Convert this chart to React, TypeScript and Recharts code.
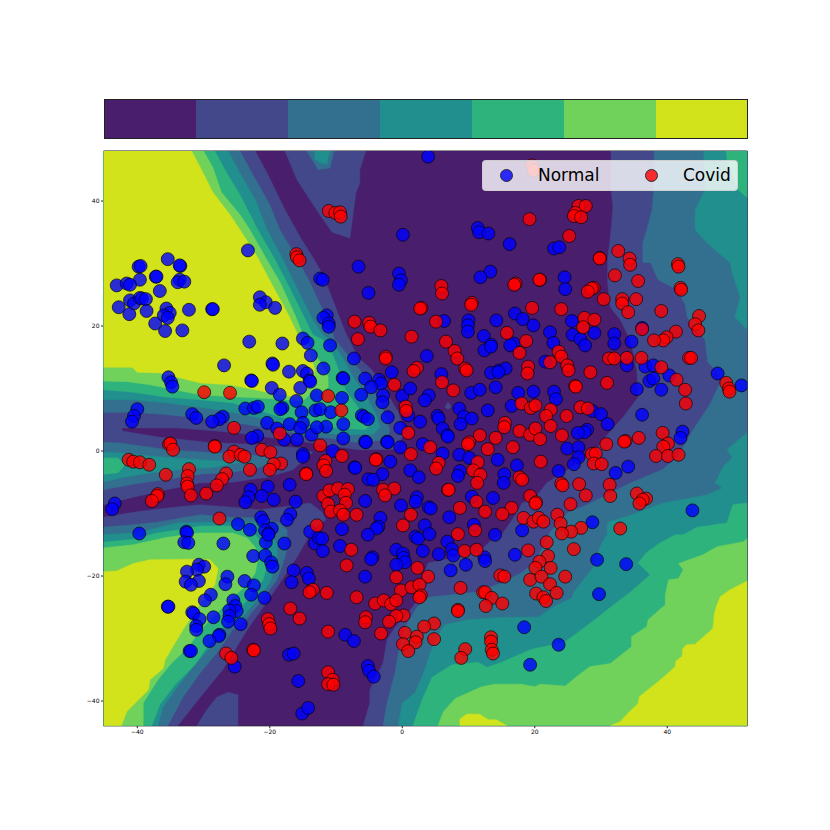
import React from 'react';
import { BarChart, Bar, XAxis, YAxis, ScatterChart, Scatter, Legend, ReferenceArea } from 'recharts';

type Pair = [number, number];

const xMin = -45.1;
const xMax = 52.08;
const yMin = -43.95;
const yMax = 48;

const xTicks = [-40, -20, 0, 20, 40];
const yTicks = [-40, -20, 0, 20, 40];

const levelColors = ['#491e6d', '#43488a', '#33708f', '#218f8d', '#2eb37c', '#71d25b', '#d2e21b'];
const colorbarKeys = ['l0', 'l1', 'l2', 'l3', 'l4', 'l5', 'l6'];
const colorbarRow = [{ name: 'levels', l0: 1, l1: 1, l2: 1, l3: 1, l4: 1, l5: 1, l6: 1 }];

// contour regions per level, in data units, painted lowest first
const level0: Pair[][] = [[[xMin, yMax], [xMax, yMax], [xMax, yMin], [xMin, yMin]]];

const level1: Pair[][] = [
  [[-22.2,48],[-20.4,44.5],[-17.7,38.6],[-15.4,34.2],[-13.5,31],[-12,28.2],[-10.2,23.4],[-8.6,19],[-6.7,15],[-4.6,13],[-2.6,9.8],[-0.6,6.2],[0.4,2.9],[-1.1,0.3],[-6.7,0.2],[-10.6,0.8],[-13.5,1.3],[-20.4,2.2],[-25.6,3],[-34,3.7],[-42.3,3.7],[-42.3,3.2],[-36.6,2.2],[-29.5,1.4],[-21.5,1],[-15.4,0.5],[-13.5,-0.2],[-16.5,-3],[-20.4,-4.2],[-25.6,-5],[-30.5,-5.1],[-35.5,-6.2],[-40.6,-7.4],[-45.1,-8.6],[-45.1,48]],
  [[-45.1,-10.6],[-40.6,-9.8],[-35.5,-9.1],[-30.5,-8.6],[-25.6,-9],[-21.5,-9.4],[-17,-8.8],[-13.9,-8.3],[-12.1,-9.8],[-11.5,-11],[-13.5,-12.6],[-15.9,-17],[-18.9,-21.8],[-23.4,-28.6],[-27.1,-35],[-30.5,-39.4],[-33.9,-43.95],[-45.1,-43.95]],
  [[31.5,48],[31.5,41.8],[31.8,39],[31.4,34.2],[31,30.6],[31,26.9],[31.4,23],[32.9,21],[34.4,17.8],[35.4,13],[35.6,8.6],[33.3,5.4],[30.3,1.8],[28.8,-0.3],[24.9,-3],[21.8,-5.1],[20,-7.5],[18.1,-8.3],[16.6,-11],[15,-13.4],[13.5,-14.2],[11.4,-16.3],[3.9,-17.9],[3,-20.2],[2.4,-23.8],[0.9,-25.8],[-1.1,-28.2],[-2.3,-30.2],[-2.9,-33.9],[-4.9,-38.2],[-4.9,-40.3],[-5.9,-43.95],[52.08,-43.95],[52.08,48]],
  [[-17.7,48],[-15.9,43.4],[-13.2,39],[-10.6,35],[-7.9,34.1],[-7,41.3],[-6.4,42.9],[-6.4,45],[-5.5,48]],
  [[-31,-43.95],[-29.5,-41.4],[-28,-39.4],[-26.3,-38.6],[-24.8,-39],[-24.8,-43.95]],
  [[6.9,7.9],[7.4,7],[6.9,6.7],[6.4,7]],
];

const level2: Pair[][] = [
  [[-24.5,48],[-22.7,44.5],[-20,39.4],[-18.5,35.4],[-16.2,31.4],[-13.9,26.9],[-12.4,23.4],[-10.9,20.2],[-10.2,17.8],[-7.6,14.6],[-6.1,12.5],[-4.4,9.8],[-2.9,6.6],[-1.9,3.4],[-2.3,1.8],[-7.1,1.4],[-11.2,2.1],[-13.2,2.2],[-20.4,3.7],[-25.6,4.6],[-30.5,5.3],[-35.5,5.8],[-40.6,6.2],[-45.1,6.2],[-45.1,48]],
  [[-45.1,1.4],[-42.6,1.3],[-35.5,0.2],[-28,-0.3],[-23,-0.6],[-18.5,-1.4],[-21.5,-2.6],[-25.6,-3.4],[-30.5,-3.7],[-35.5,-4.5],[-40.6,-5.3],[-45.1,-6.2]],
  [[-45.1,-12.2],[-40.6,-11.8],[-37,-11.4],[-30.5,-10.2],[-25.6,-10.6],[-21.5,-10.7],[-18.5,-11.5],[-17.4,-12.6],[-17.4,-15.8],[-18,-17.9],[-18.9,-20.6],[-21.5,-24.3],[-24,-27.5],[-25.6,-28.6],[-28,-32.3],[-30.5,-35.5],[-33.1,-39.4],[-35.4,-43.95],[-45.1,-43.95]],
  [[38,48],[38.1,43.4],[37.7,38.6],[36.9,35.4],[36.3,33.3],[36.3,30.2],[37.5,30.1],[38.6,27.4],[41.5,25.8],[42.7,23.4],[43,21.4],[45.4,18.2],[45.7,17.8],[46.1,14.2],[48.4,11.8],[46.4,7.4],[43.9,3.4],[41.5,-1],[39.2,-3],[34.4,-5.1],[27.9,-8.6],[24.9,-9.9],[22.3,-13],[20,-17.8],[18.1,-19.4],[15,-21.1],[11,-22.6],[3.9,-23.4],[2.2,-25],[0.4,-28.2],[-0.6,-32.3],[-1.1,-35.5],[-2.3,-40.3],[-2.9,-43.95],[52.08,-43.95],[52.08,48]],
  [[-14.4,48],[-12.7,45],[-10.9,45.3],[-10.3,48]],
];

const level3: Pair[][] = [
  [[-26.3,48],[-24.5,44.5],[-22.2,40.2],[-20.4,35.4],[-18,30.6],[-15.4,25],[-13.5,21],[-12,18.6],[-10.9,17.8],[-9,15],[-7.4,11.8],[-5.3,8.6],[-3.8,5.4],[-3.4,3.8],[-4.4,2.7],[-8.6,2.6],[-12.1,2.9],[-15.4,3.7],[-20.4,5],[-25.6,6.2],[-30.5,7],[-35.5,7.7],[-40.6,8.2],[-45.1,8.2],[-45.1,48]],
  [[-45.1,-0.2],[-42.6,-0.3],[-38.1,-0.8],[-30.5,-1.4],[-24.5,-1.8],[-28.3,-2.6],[-33.6,-3],[-38.1,-3.5],[-42.6,-4.3],[-45.1,-5]],
  [[-45.1,-13.4],[-40.6,-13.1],[-38.1,-12.6],[-34,-11.5],[-30.5,-11.4],[-25.6,-11.4],[-21.5,-11.5],[-20.4,-12.6],[-18.9,-14.7],[-18.9,-17.9],[-20,-21.1],[-21.9,-23.8],[-24.5,-27],[-27.2,-28.6],[-29,-31.4],[-31.6,-34.6],[-34,-37.8],[-36.1,-41],[-36.9,-43.95],[-45.1,-43.95]],
  [[45.5,48],[45.7,41.8],[44.2,38.6],[44.2,35.4],[46,33.3],[49.5,30.1],[49.8,28.5],[51,24.6],[50.2,21.4],[52.08,19.4],[52.08,48]],
  [[52.08,3],[49,0.2],[49.8,-1],[48.4,-2.6],[47.2,-5.1],[48.3,-5.9],[46.1,-7],[39.4,-8.3],[34.7,-10.2],[31,-11.4],[30.9,-13.4],[30.1,-14.7],[28.8,-18.6],[25.8,-22.7],[25.6,-23.5],[22.7,-25],[20.5,-26.6],[15,-26.6],[9.9,-27],[6.4,-27.8],[5.2,-29.8],[4.2,-32.3],[3.4,-35],[1.9,-38.7],[0,-40.3],[-0.6,-43.95],[52.08,-43.95]],
  [[-13.2,48],[-13.2,46.7],[-12.4,46.1],[-11.4,45.9],[-10.9,48]],
];

const level4: Pair[][] = [
  [[-28.3,48],[-26.5,44.5],[-24.5,41],[-21.8,35.4],[-19.2,30.6],[-17,26.1],[-15,21.8],[-13.5,18.6],[-12,17.8],[-10.5,15.4],[-9.4,12.5],[-8.6,9.8],[-6.7,7],[-4.9,4.2],[-5.6,3.4],[-9.7,3.7],[-13.2,4.2],[-15.4,4.5],[-20.4,6.1],[-25.6,7.7],[-30.5,8.2],[-35.5,8.6],[-40.6,9.4],[-45.1,9.8],[-45.1,48]],
  [[-45.1,-1.1],[-42.9,-1.1],[-41.9,-2.2],[-42.9,-3.5],[-45.1,-3.7]],
  [[-45.1,-14.6],[-40.6,-14.1],[-37,-13.1],[-33.1,-12.5],[-30.5,-12],[-25.6,-12],[-23,-12.6],[-21,-14.7],[-20.3,-17.9],[-21,-20.6],[-23,-23.4],[-26.8,-27.8],[-28.7,-30.2],[-31.3,-34.2],[-34.3,-37.4],[-36.6,-40.6],[-37.8,-43.95],[-45.1,-43.95]],
  [[48.9,48],[49,46.6],[50.7,41.8],[52.08,40.5],[52.08,48]],
  [[52.08,-8.3],[49.9,-8.6],[49,-11.5],[44.5,-12.2],[42.4,-13.4],[41.2,-13.4],[38.9,-14.7],[36.9,-16.2],[35.6,-17.9],[37.4,-19.8],[34.4,-22.6],[32.9,-23.8],[31.4,-25],[29.4,-26.7],[26.4,-29.1],[24.3,-30.7],[20.8,-31.4],[19.3,-31.8],[15,-33.8],[12.8,-34.6],[11.4,-33.8],[7.5,-34.2],[4.5,-36.2],[3,-39.8],[1.6,-43.95],[52.08,-43.95]],
];

const level5: Pair[][] = [
  [[-30,48],[-28.6,45.4],[-27.3,41.4],[-24.5,37.8],[-23,35.4],[-20.7,31.1],[-18.4,26.9],[-16.2,21.8],[-14.7,17.8],[-13.2,15.7],[-12.4,14.2],[-11.2,11.8],[-11.2,10.2],[-12.1,9.4],[-13.2,9.8],[-15,8],[-20,8.4],[-25.9,8.7],[-30.5,9],[-38.1,10.6],[-41.5,11.1],[-45.1,11.2],[-45.1,48]],
  [[-45.1,-15.5],[-40.6,-15],[-35.5,-13.8],[-30.5,-13.1],[-25.6,-13.1],[-23.4,-13.9],[-22.2,-15.4],[-21.8,-17.4],[-22.2,-19.5],[-23.4,-21.4],[-25.6,-23.4],[-30.5,-28.6],[-32.3,-31.4],[-34.8,-33.9],[-36.9,-36.6],[-39.1,-40.3],[-39.1,-43.95],[-45.1,-43.95]],
  [[5.4,-43.95],[6.2,-41.7],[8,-39.6],[12,-37.7],[14,-37.3],[18,-37.3],[20,-37.7],[20.8,-37.3],[24.6,-37.6],[26.3,-36.1],[28.3,-34.5],[31.4,-34],[34.6,-31.3],[34.6,-29.7],[36.9,-28.1],[37.1,-27],[39.7,-24.6],[39.7,-23],[40.2,-20.6],[41.7,-20.4],[42.4,-19],[41.7,-18],[45.4,-16.6],[47.5,-15.3],[51.5,-14.5],[52.08,-14],[52.08,-43.95]],
];

const level6: Pair[][] = [
  [[-45.1,48],[-31.8,48],[-30.5,45.4],[-28.6,41.4],[-26,37.8],[-24.5,35.4],[-21.9,31.1],[-19.5,26.3],[-17.2,21.8],[-15.4,17.8],[-13.9,15.4],[-13.2,13],[-13.5,10.9],[-15.9,8.6],[-20.4,9.4],[-26,10.6],[-30.5,10.9],[-36.6,12.5],[-40,12.6],[-40.8,13.4],[-45.1,13.4]],
  [[-45.1,-19.3],[-43.1,-19.2],[-40.6,-18],[-38.1,-17.4],[-32,-17.3],[-29,-17.4],[-27.8,-18.8],[-28.3,-21.4],[-30.5,-24.4],[-33.1,-28.6],[-35.8,-33.4],[-36.1,-34.8],[-38.1,-36.6],[-38.3,-38.2],[-41.6,-41.7],[-42.4,-43.95],[-45.1,-43.95]],
  [[31.4,-43.95],[32.9,-43.3],[34.1,-41.9],[35.6,-40.4],[35.8,-39.3],[39.2,-36.4],[41.2,-34.5],[41.3,-33.6],[42.3,-32.8],[42.3,-31.7],[42.9,-31],[44.2,-30.9],[46.9,-28.4],[47.1,-26],[47.5,-24.6],[48,-23.3],[49.5,-22.2],[52.08,-20.8],[52.08,-43.95]],
  [[8.7,-43.95],[8.7,-42.9],[9.7,-42.1],[11.7,-42.1],[13,-43],[14.2,-43],[15.8,-43.95]],
];

const levels = [level0, level1, level2, level3, level4, level5, level6];

const normalPoints: Pair[] = [
  [-23.3,32.1],[-35.4,30.7],[-33.5,29.6],[-33.6,29.7],[-39.8,29.5],[-39.5,29.6],[-37.2,27.9],[-37.1,27.9],[-39.6,27.4],[-43.1,26.5],[-41.6,26.8],[-41.1,26.6],[-33.6,27.4],[-33.9,27],[-32.9,27.1],[-36.6,25.6],[-41.1,24.1],[-40.5,23.6],[-39.6,24.5],[-39.3,24.4],[-38.7,24.3],[-42.8,23],[-41.2,21.9],[-38.6,22.4],[-35.6,22.8],[-35.1,22.1],[-36,21.7],[-35.4,21.3],[-32.2,22.6],[-28.7,22.7],[-28.6,22.7],[-37.3,20.4],[-35.8,19.2],[-33.2,19.3],[-21.5,24.6],[-20.6,23.8],[-21.5,23.4],[-19.2,22.9],[-23.1,17.5],[-18.1,17.2],[-15,18],[-14.3,17.3],
  [3.9,47.1],[0.1,34.6],[-6.6,29.5],[-12.4,27.6],[-12,27.4],[-0.5,28.4],[-0.2,27.3],[-0.5,26.6],[-5.1,25.3],[11.4,35.7],[11.6,35],[13,34.8],[16.2,33.1],[13.3,28.7],[11.8,27.8],[6.3,20.8],[14.2,20.9],[17,22],[18.2,21.1],[19.8,20.1],[10,20.9],[9.9,20.1],[9.9,19.1],[12.3,18.4],[13.4,17],[16.8,17.2],[16.3,16.9],[-11.4,21.7],[-11.9,21.3],[-11.1,20.4],[-11.1,19.9],[-10.9,16.9],
  [22.9,32.4],[23.7,32.6],[24.5,27.8],[24.6,25.9],[25.6,20.8],[22.3,19],[22.8,17.3],[25.7,18.6],[26.9,17.9],[27.6,16.9],[29,18.9],[32,18.7],[32,17.2],[34.6,17.5],
  [-13.8,15.3],[-26.9,13.7],[-19.6,14],[-19.5,13.8],[-17.1,12.7],[-15,12.8],[-14.4,12.4],[-14,11.3],[-13.9,11.1],[-22.8,11.3],[-22.7,11.2],[-35.3,11.8],[-34.9,11],[-34.7,10.3],[-19.7,10.1],[-18.5,9],[-15.4,10.1],[-12.9,8.9],[-16,8],[-23.7,6.8],[-22.4,6.9],[-21.8,7.1],[-18.1,6.9],[-18.4,6.7],[-15.2,6.2],[-40,6.7],[-40.5,5.6],[-40.8,4.7],[-31.7,5.9],[-31.1,5.3],[-27.1,5.5],[-27.6,5.1],[-28.7,4.7],[-20.4,4.5],[-18.9,3.6],[-17,4.3],[-15,4.5],[-15.4,3.7],[-13.7,2.6],[-15.9,1.8],[-17.8,1.8],[-21.9,2.4],[-22.7,2.1],[-15,-0.5],[-15,-0.9],[-22.9,-6.2],[-23.2,-7.4],[-23.7,-8.2],[-20.3,-5.7],[-21.2,-7.2],[-19.4,-7.8],[-17,-5.4],[-16.1,-8.1],[-16.9,-10.1],[-17.4,-11],[-43.4,-8.4],[-43.8,-9.3],[-24.8,-11.7],[-21.3,-10.6],[-21,-11.2],[-19.7,-12.4],[-20.7,-12.7],[-20.2,-13.2],[-23,-12.6],[-39.7,-13.2],[-32.6,-12.9],[-32.5,-13.1],[-13.9,-12.9],
  [-7.3,14.8],[-11.9,13.2],[-9,11.7],[-8.9,11.6],[-5.6,11.6],[-3.5,11.4],[-3.2,10.8],[-1.6,12.6],[-4.7,10.2],[-6.2,9],[-2.9,8.9],[-3,7.8],[0,8.8],[1.2,10],[4,8.9],[3.4,8.1],[-9.1,8.5],[3.7,15.2],[5.9,12.3],[13.4,12.5],[14.6,12.9],[15.6,13.2],[14.5,12.6],[12.4,16.1],[13.4,16.7],[10.4,9.3],[11.7,9.8],[14.1,10.2],[17.5,9.3],[19.8,9.5],[16.5,7.2],[12.9,6.5],[8.6,6.8],[9.3,5.5],[10.5,5.2],[8.8,4.3],[5.3,5.6],[5.5,5.2],[2.7,4.7],[6.1,3.6],[6.8,2.5],[6.9,2.3],[-6.1,5.7],[-5.8,5.5],[-5.2,5.1],[-2.2,5.4],[0.9,5.7],[-0.3,3.7],[-8.9,4.3],[-11.5,3.9],[-12.9,3.8],[-13.1,6.5],[-12.4,6.7],[-10.8,6.2],[-8.9,2],[-5.6,1.5],[-5.5,1.4],[-2.3,1.5],[-2.2,1.4],[-0.3,0.6],[-10.5,0],[3.1,1.1],[6.1,-0.4],[8.6,-0.6],[10.1,-1.1],[14.4,-1.4],[17.3,-2.3],[-1.8,-1.7],[-7.2,-2.6],[-7.1,-2.7],[1.2,-3.1],[2.5,-4.2],[-3,-3.7],[-5.1,-4.5],[-4.4,-4.6],[8.7,-3.2],[8.4,-4],[15.4,-3.7],[15.3,-5.1],[13.7,-7.5],[10.5,-7.3],[2.2,-7.4],[2,-8.1],[-5.6,-8],[-0.2,-8.7],[4,-9],[4.3,-9.2],[7.1,-10.6],[-3.3,-10.7],[-3.6,-12.1],[-3.9,-12.4],[3.4,-11.9],[-9.1,-12.5],[10.8,-11.8],[18.1,-12.7],
  [21.6,14.3],[33.9,13.7],[36.7,13.5],[37.9,13.7],[40.3,12.1],[37.3,11.2],[37.9,11.6],[39.1,9.8],[35.4,9.9],[47.6,12.4],[51.2,10.5],[22.9,9.5],[23.2,8.3],[28.7,6.4],[30,5.9],[31,4.3],[36.2,5.8],[27.9,3.4],[27.5,3],[26.5,2.9],[42.3,3.1],[42,2.1],[24.9,0.4],[26.6,0.6],[26.6,-1],[25.9,-2.1],[34.1,-2.5],[32.2,-3.5],[23.6,-3.2],[43.8,-9.5],[28.7,-11.4],[36.2,19.7],
  [-32.9,-14.6],[-32.3,-14.7],[-27,-14.8],[-20.6,-14.6],[-20.2,-13.4],[-17.8,-14.8],[-13.2,-14.8],[-12.6,-13.9],[-22.5,-16.8],[-20.7,-16.7],[-19.8,-17.8],[-19.6,-18.5],[-30.7,-18.2],[-29.9,-18.5],[-31,-19],[-32.5,-19.3],[-16.4,-19.1],[-14.4,-19.5],[-14.1,-20.4],[-16.7,-21],[-30.7,-20.8],[-32.7,-20.9],[-31.9,-21.4],[-26.4,-20.1],[-26.7,-21.3],[-23.8,-20.8],[-22.4,-21.5],[-22.8,-23],[-28.9,-23],[-29.8,-23.9],[-20.8,-23.5],[-35.4,-24.9],[-35.3,-24.9],[-25.5,-23.9],[-25.2,-24.8],[-25,-25.6],[-26.1,-25.5],[-26.1,-26.4],[-26.3,-27.3],[-24.4,-27.7],[-31.7,-25.8],[-31.5,-26],[-28.5,-26.6],[-30.6,-26.9],[-31.1,-28],[-31.1,-28.6],[-27.6,-29.4],[-27.7,-29.6],[-29.1,-30.4],[-32.1,-32],[-31.9,-32],[-25.3,-34.5],[-17.1,-32.6],[-16.4,-32.4],[-15.7,-36.8],[-15.1,-42],[-14.2,-41.1],
  [-12,-16],[-12.1,-14],[-9.4,-15.2],[-5.2,-13.4],[-4.5,-17],[-4.7,-17.3],[-5.6,-20.1],[-0.9,-15.8],[0.1,-16.4],[0.2,-17.1],[0.4,-17.8],[-0.9,-18.2],[2,-13.7],[2.4,-14],[4.1,-13.3],[3.1,-16],[5.5,-16.5],[6.8,-14.5],[7.5,-15.7],[7.7,-16.7],[9.6,-18.2],[7.3,-19.1],[12.4,-17],[12.5,-17.6],[14,-13.4],[17,-16.6],[18.4,-28.2],[19.3,-34.2],[-8.6,-29.4],[-7.3,-30.4],[-5.2,-34.4],[-5,-35.2],[-4.3,-36.1],
  [29.4,-17.4],[33.8,-18.1],[29.7,-22.9],[23.6,-31],
];

const covidPoints: Pair[] = [
  [-16,31.5],[-15.9,31],[-15.5,30.5],
  [19.6,45.7],[19.8,44.9],[-11.1,38.4],[-10.1,38.1],[-9.4,38.2],[-9.3,37.5],[19.2,37.1],[5.9,26.4],[6,25.2],[17.1,26.8],[16.9,26.6],[10.5,23.7],[10.4,23.4],[2.9,22.9],[2.7,22.8],[19.6,22.9],[5.1,20.7],[-7.2,20.7],[-5,20.5],[-4.8,19.9],[-3.3,19.3],[-6.7,17.9],[1.4,18.3],[6.6,17.5],[15.8,18.9],[18.7,17.6],
  [26.6,39.2],[27.7,39.2],[26.1,38.1],[25.9,37.6],[27,37.4],[25.2,34.4],[32.6,32],[29.8,30.9],[29.8,30.8],[34.3,30.8],[34.4,29.8],[41.6,29.9],[41.7,29.5],[32.1,28.1],[35.6,27.2],[20.8,27.4],[20.7,27.4],[42,26.1],[42.1,25.8],[28.9,26.1],[28.6,26],[28,25.5],[30.4,24.3],[33.2,24.3],[33.2,23.6],[34.1,22.2],[35.3,24.3],[39.1,22.4],[44.8,21.6],[44.2,20.3],[44.7,19.3],[24,22.7],[27.5,21.3],[29,21],[27.3,19.8],[36.2,19.5],[41.3,19.1],[39.9,18.2],[39.4,17.7],[38,17.7],
  [-29.9,9.4],[-26,9.3],[-25.4,3.7],[-18.5,2.8],[-35.2,1.1],[-35,1.2],[-34.6,0.2],[-28.3,0.8],[-28.3,0.7],[-21.2,0.2],[-19.9,-0.2],[-25.4,-0.1],[-26.1,-0.9],[-24.4,-0.6],[-23.8,-0.9],[-41.3,-1.4],[-40.6,-1.7],[-39.6,-1.8],[-38.2,-2.2],[-18.3,-2],[-19.4,-2.1],[-20,-3],[-23,-3],[-14.5,-3.6],[-14.5,-3.7],[-35.7,-3.8],[-32.2,-2.9],[-32.4,-4],[-32.5,-5.2],[-32.4,-5.7],[-31.9,-7.1],[-26.6,-3.6],[-27.2,-4.5],[-28,-5.5],[-29.6,-6.8],[-36.9,-6.9],[-37,-7.2],[-37.8,-8],[-27.6,-10.8],[-12.9,-11.9],
  [-2.5,15.1],[-2.5,14.8],[7.9,16],[8.3,14.8],[17.7,15.7],[9.5,13.2],[9.7,12.9],[19,13.5],[18.9,12.4],[2.2,13.3],[1.7,12.8],[6,11],[7.7,9.7],[-1.2,10.6],[-11.2,8.8],[-9.2,6.5],[18,7.6],[19.4,6.9],[20.1,7.3],[0.5,7.1],[0.6,6.4],[15.5,4.5],[15.4,3.8],[17.7,3.2],[19.3,2.6],[20.1,3.6],[0.9,2.9],[11.7,2.5],[14.1,2.1],[10.1,1.4],[9.9,1.1],[12.9,0.3],[16.7,0.6],[-12.4,0.9],[-9.1,-0.8],[4.2,0.6],[1.3,-0.5],[-3.9,-1.3],[-4,-1.4],[-11.6,-1.6],[-11.9,-2.3],[-11.5,-3.2],[11.4,-1.8],[10.7,-3.1],[5.5,-1.9],[5.1,-2.8],[11.8,-3.8],[11.3,-5.1],[17.7,-4.2],[18.1,-4.6],[6.9,-6.2],[7,-6.2],[-2.9,-6.2],[-1.2,-6],[-2.6,-7.1],[11.2,-8.1],[8.7,-9.1],[12.5,-9.7],[16.5,-9.1],[15.1,-10.1],[19.3,-7.2],[18.3,-10.7],[19.8,-11.3],[1.3,-10.2],[0.1,-11.9],[11,-12.7],[8.4,-13.3],[-11.9,-7.2],[-11,-6.3],[-9.7,-6],[-8.2,-6.1],[-8.7,-7],[-11.2,-8.5],[-8.5,-8.3],[-10.8,-9.7],[-9.4,-9.5],[-8.9,-10.2],[-6.9,-10.2],
  [23.6,15.9],[24,15.1],[22.3,14.2],[24.9,13.7],[25.1,12.9],[28.4,12.6],[31.2,14.8],[32,14.8],[33.9,14.9],[36.1,14.9],[39.1,13.4],[43.3,14.9],[43.6,14.9],[41.4,11.4],[42.7,9.8],[42.8,7.6],[48.9,10.9],[49.3,10],[49.4,9.5],[26.1,10.4],[26.2,10.3],[30.9,10.9],[26.9,7],[28,6.8],[22.4,6.6],[21.7,5.6],[24.8,5.6],[22.4,4],[24.1,2.5],[20.8,1.9],[30.8,1.1],[33.7,1.6],[33.5,1.5],[35.7,2.1],[39.3,2.9],[40.1,1.2],[39.4,0.7],[38.3,-0.8],[40.1,-0.8],[41.7,-0.6],[28.6,-0.5],[29.2,-0.4],[28.9,-2],[30.1,-2.1],[20.9,-1.7],[24,-5.2],[24.2,-5.5],[26.7,-5.3],[31.3,-5.4],[27.7,-7.1],[31.4,-7.2],[35.4,-6.8],[36.8,-7.6],[36.3,-7.8],[35.8,-8.4],[20.2,-8.2],[20.1,-8.4],[25.4,-8.5],[23.4,-10.2],[20.6,-10.7],[21.3,-11.3],[23.9,-11.6],[27,-12.3],[25.5,-12.9],[24.1,-13.2],[32.9,-12.4],
  [-13.5,-22.2],[-14,-22.6],[-16.9,-25.2],[-15.5,-26.8],[-20.3,-26.9],[-20.1,-27.7],[-19.9,-28.4],[-26.6,-32.4],[-25.8,-33.1],[-22.5,-31.8],[-22.4,-31.9],
  [-7.7,-15.8],[-8.4,-18.3],[9.4,-16],[11.2,-15.8],[19,-15.9],[2.3,-18.7],[3.9,-20.1],[-0.9,-20.2],[14.8,-19.9],[15.4,-20.1],[19.3,-20.6],[-11.4,-22.7],[-6.9,-23.4],[-0.2,-22.3],[1.4,-21.8],[2.6,-21.4],[2.8,-23.1],[2.6,-23.4],[8.8,-21.9],[12.2,-22.6],[12.5,-22.6],[13.5,-23.5],[12.6,-24.8],[15.1,-24.4],[-4.1,-24.4],[-2.8,-23.9],[-1.7,-24.5],[-0.9,-23.9],[8.4,-25.4],[8.4,-25.6],[0.2,-26.3],[-0.9,-26.4],[-2,-27.3],[-5.5,-26.6],[-5.6,-27.4],[4.8,-27.6],[3.3,-28.1],[0.4,-29.1],[2.2,-29.7],[2,-30.6],[0.1,-30.9],[0.9,-32],[4.8,-30.1],[-11.2,-28.9],[-3.2,-29.2],[13.4,-29.8],[13.4,-30.5],[13.5,-31.8],[13.7,-32.4],[9.5,-31.7],[8.9,-33.1],[-11.2,-35.4],[-10.5,-36.6],[-11.2,-37.3],[-10.4,-37.4],
  [21.8,-14.6],[25.9,-15.7],[22,-16.8],[20.7,-17.7],[22.4,-18.7],[20.1,-18.7],[21,-20.1],[24.6,-20.1],[22.3,-21.3],[20.2,-22.8],[23.3,-22.7],[21.3,-23.4],[21.7,-24],
];

const seriesNames = ['Normal', 'Covid'];
const seriesColors = ['#0000ff', '#ff0000'];

const toRows = (pairs: Pair[]) => pairs.map(([x, y]) => ({ x, y }));
const noDot = () => <g />;
const fontFamily = '"DejaVu Sans", sans-serif';
const minus = (v: number) => String(v).replace('-', '\u2212');

const Dot = ({ cx, cy, fill }: any) => (
  <circle cx={cx} cy={cy} r={6.5} fill={fill} fillOpacity={0.8} stroke="#000" strokeOpacity={0.8} strokeWidth={0.8} />
);

// the box sits over the points, so they show through it faintly
const legendMarkerX = [16.5, 162.2];
const legendLabelX = [55, 200];
const renderLegend = () => (
  <div style={{ position: 'relative', width: 256, height: 31, boxSizing: 'border-box', background: 'rgba(255,255,255,0.8)', border: '1px solid rgba(204,204,204,0.8)', borderRadius: 4, fontFamily, fontSize: 17, color: '#000' }}>
    {seriesNames.map((name, i) => (
      <React.Fragment key={name}>
        <span style={{ position: 'absolute', left: legendMarkerX[i], top: 8, width: 13, height: 13, boxSizing: 'border-box', borderRadius: '50%', background: seriesColors[i], opacity: 0.8, border: '1px solid #000' }} />
        <span style={{ position: 'absolute', left: legendLabelX[i], top: 3, lineHeight: '22px' }}>{name}</span>
      </React.Fragment>
    ))}
  </div>
);

export default function App() {
  return (
    <div style={{ position: 'absolute', left: 0, top: 0, width: 830, height: 830, background: '#fff' }}>
      <div style={{ position: 'absolute', left: 103.5, top: 99.3, width: 644, height: 40 }}>
        <BarChart width={644} height={40} data={colorbarRow} layout="vertical" barCategoryGap={0} margin={{ top: 0, right: 0, bottom: 0, left: 0 }}>
          <XAxis type="number" hide domain={[0, 7]} />
          <YAxis type="category" dataKey="name" hide />
          {colorbarKeys.map((k, i) => (
            <Bar key={k} dataKey={k} stackId="c" fill={levelColors[i]} isAnimationActive={false} />
          ))}
        </BarChart>
        <div style={{ position: 'absolute', left: 0, top: 0, width: 644, height: 40, boxSizing: 'border-box', border: '1px solid #222' }} />
      </div>
      <ScatterChart width={830} height={830} margin={{ top: 151, right: 82.7, bottom: 84.3, left: 73.5 }}>
        <XAxis type="number" dataKey="x" domain={[xMin, xMax]} ticks={xTicks} height={20} allowDataOverflow tickFormatter={minus} tick={{ fontSize: 6, fill: '#000', fontFamily }} tickSize={2.5} tickMargin={1.5} interval={0} stroke="#222" />
        <YAxis type="number" dataKey="y" domain={[yMin, yMax]} ticks={yTicks} width={30} allowDataOverflow tickFormatter={minus} tick={{ fontSize: 6, fill: '#000', fontFamily }} tickSize={2.5} tickMargin={1.5} interval={0} stroke="#222" />
        {levels.map((rings, li) =>
          rings.map((ring, ri) => (
            <Scatter
              key={`${li}-${ri}`}
              data={toRows(ring)}
              shape={noDot}
              line={{ fill: levelColors[li], stroke: levelColors[li], strokeWidth: 0.5 }}
              lineJointType="linear"
              legendType="none"
              isAnimationActive={false}
            />
          ))
        )}
        <Scatter name={seriesNames[0]} data={toRows(normalPoints)} fill={seriesColors[0]} shape={Dot} isAnimationActive={false} />
        <Scatter name={seriesNames[1]} data={toRows(covidPoints)} fill={seriesColors[1]} shape={Dot} isAnimationActive={false} />
        <ReferenceArea x1={xMin} x2={xMax} y1={yMin} y2={yMax} fill="none" stroke="#222" strokeWidth={1} />
        <Legend layout="vertical" align="center" verticalAlign="middle" content={renderLegend} wrapperStyle={{ left: 482, top: 159.5, width: 256, height: 31, margin: 0 }} />
      </ScatterChart>
    </div>
  );
}
